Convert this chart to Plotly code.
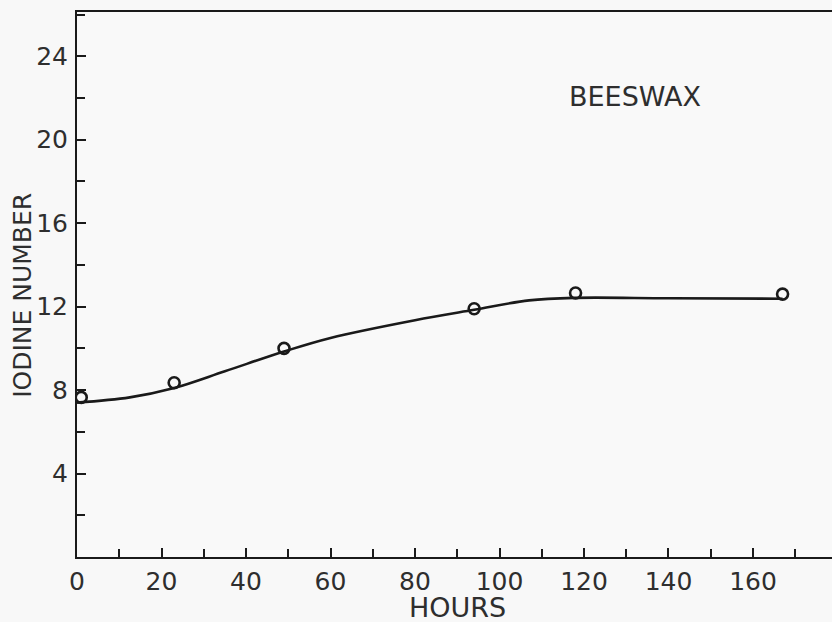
import plotly.graph_objects as go

# Observed data points (open circles)
hours = [1, 23, 49, 94, 118, 167]
iodine = [7.65, 8.35, 10.0, 11.9, 12.65, 12.6]

# Smooth fitted curve
curve_hours = [0, 12.5, 23, 35, 49, 60, 80, 94, 107, 118, 140, 167]
curve_iodine = [7.4, 7.65, 8.1, 8.9, 9.85, 10.5, 11.35, 11.85, 12.3, 12.42, 12.4, 12.38]

x_tickvals = [0, 20, 40, 60, 80, 100, 120, 140, 160]
x_ticktext = ["0", "20", "40", "60", "80", "100", "120", "140", "160"]
y_tickvals = [4, 8, 12, 16, 20, 24]
y_ticktext = ["4", "8", "12", "16", "20", "24"]

FONT = "DejaVu Sans"
INK = "#1a1a1a"
TXT = "#2e2e2e"

fig = go.Figure()
fig.add_trace(go.Scatter(x=curve_hours, y=curve_iodine, mode="lines",
                         line=dict(color=INK, width=2.6, shape="spline", smoothing=1.0),
                         hoverinfo="skip", showlegend=False))
fig.add_trace(go.Scatter(x=hours, y=iodine, mode="markers",
                         marker=dict(symbol="circle-open", size=11, color=INK,
                                     line=dict(width=2.6, color=INK)),
                         showlegend=False))

fig.update_layout(
    width=832, height=622,
    margin=dict(l=77, r=0, t=12, b=65),
    paper_bgcolor="#f8f8f8", plot_bgcolor="#f9f9f9",
    font=dict(family=FONT, color=TXT, size=25),
    xaxis=dict(range=[0, 178.7], showgrid=False, zeroline=False,
               showline=True, linecolor=INK, linewidth=2, mirror=True,
               ticks="inside", ticklen=9, tickwidth=2, tickcolor=INK,
               tickvals=x_tickvals, ticktext=x_ticktext,
               minor=dict(dtick=10, tick0=0, ticks="inside", ticklen=8, tickwidth=2, tickcolor=INK),
               tickfont=dict(size=25, family=FONT, color=TXT),
               ticklabelstandoff=1),
    yaxis=dict(range=[0, 26.12], showgrid=False, zeroline=False,
               showline=True, linecolor=INK, linewidth=2, mirror=False,
               ticks="inside", ticklen=9, tickwidth=2, tickcolor=INK,
               tickvals=y_tickvals, ticktext=y_ticktext,
               minor=dict(dtick=2, tick0=0, ticks="inside", ticklen=8, tickwidth=2, tickcolor=INK),
               tickfont=dict(size=25, family=FONT, color=TXT),
               ticklabelstandoff=2),
    annotations=[
        dict(text="HOURS", xref="paper", yref="paper",
             x=(458 - 77) / 755, y=-(608 - 557.3) / 545.3,
             xanchor="center", yanchor="middle", showarrow=False,
             font=dict(size=27, family=FONT, color=TXT)),
        dict(text="IODINE NUMBER", xref="paper", yref="paper",
             x=-(77 - 23) / 755, y=(557.3 - 296) / 545.3, textangle=-90,
             xanchor="center", yanchor="middle", showarrow=False,
             font=dict(size=25, family=FONT, color=TXT)),
        dict(text="BEESWAX", xref="paper", yref="paper",
             x=(635 - 77) / 755, y=(557.3 - 97) / 545.3,
             xanchor="center", yanchor="middle", showarrow=False,
             font=dict(size=27, family=FONT, color=TXT)),
    ],
)

fig.write_html("out.html",
               config={"displayModeBar": False},
               post_script="document.body.style.margin='0';document.body.style.overflow='hidden';")
